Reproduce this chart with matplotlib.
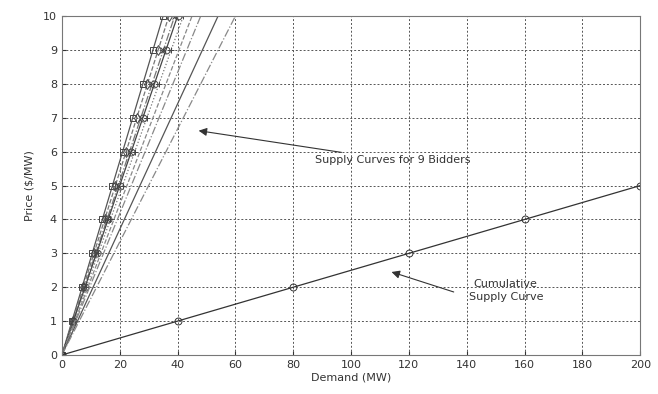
import matplotlib
matplotlib.use("Agg")
import matplotlib.pyplot as plt
import numpy as np

# Data
prices = [0, 1, 2, 3, 4, 5, 6, 7, 8, 9, 10]
# quantity offered by each bidder at price 10 $/MW (linear supply curves)
bidder_q_at_10 = [35, 37, 39, 40, 42, 45, 48, 54, 60]
bidder_styles = ['-', '--', '-.', '-', ':', '--', '-.', '-', '-.']
bidder_markers = ['s', 'd', 'x', 'o', '+', None, None, None, None]
bidder_colors = ['#555555', '#777777', '#777777', '#444444', '#777777',
                 '#888888', '#888888', '#555555', '#888888']
cum_prices = [0, 1, 2, 3, 4, 5]
cum_demand = [0, 40, 80, 120, 160, 200]

fig = plt.figure(figsize=(6.58, 3.94), dpi=100)
ax = fig.add_axes([0.094, 0.099, 0.879, 0.860])

p = np.array(prices, dtype=float)
for q10, ls, mk, c in zip(bidder_q_at_10, bidder_styles, bidder_markers, bidder_colors):
    q = q10 * p / 10.0
    ax.plot(q, p, linestyle=ls, color=c, linewidth=0.9,
            marker=mk, markersize=5, markerfacecolor='none',
            markeredgecolor='#444444', markeredgewidth=0.7)

ax.plot(cum_demand, cum_prices, '-', color='#333333', linewidth=0.9,
        marker='o', markersize=5, markerfacecolor='none',
        markeredgecolor='#333333', markeredgewidth=0.7)

ax.set_xlim(0, 200)
ax.set_ylim(0, 10)
ax.set_xticks(np.arange(0, 201, 20))
ax.set_yticks(np.arange(0, 11, 1))
ax.tick_params(direction='in', labelsize=8, colors='#333333', length=3)
ax.grid(True, linestyle=(0, (2, 2)), color='#555555', linewidth=0.7)
for s in ax.spines.values():
    s.set_color('#777777')

ax.set_xlabel('Demand (MW)', fontsize=8, color='#333333', labelpad=2)
ax.set_ylabel('Price ($/MW)', fontsize=8, color='#333333', labelpad=6)

ax.annotate('Supply Curves for 9 Bidders', xy=(47.3, 6.62), xytext=(87.5, 5.75),
            fontsize=8, color='#333333', va='center', ha='left',
            arrowprops=dict(arrowstyle='-|>', color='#333333', lw=0.8,
                            mutation_scale=12, shrinkA=0, shrinkB=0))
ax.annotate('', xy=(114, 2.45), xytext=(135.5, 1.86),
            arrowprops=dict(arrowstyle='-|>', color='#333333', lw=0.8,
                            mutation_scale=12, shrinkA=0, shrinkB=0))
ax.text(153.5, 1.9, 'Cumulative\nSupply Curve', fontsize=8, color='#333333',
        ha='center', va='center', linespacing=1.3)

fig.savefig('out.png', dpi=100)
